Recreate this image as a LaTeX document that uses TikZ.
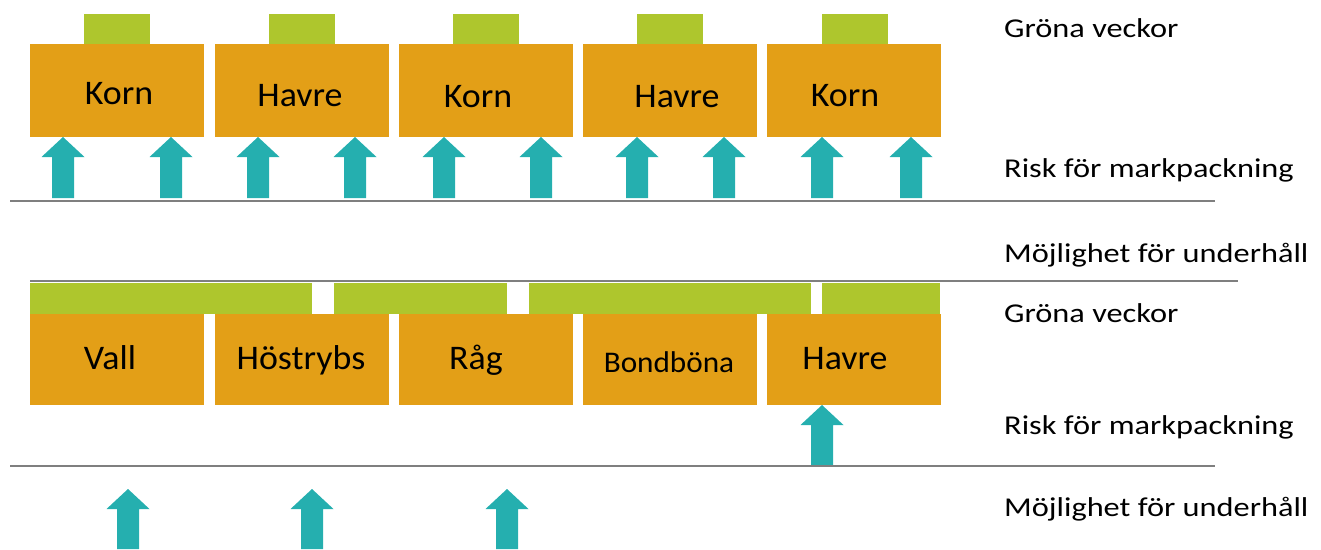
\documentclass[tikz,border=0pt]{standalone}
\usepackage{fontspec}
\setmainfont{Carlito}
\newfontfamily\boxfont{Carlito}[FakeStretch=1.04]
\newfontfamily\labfont{Carlito}[FakeStretch=1.19]
\definecolor{cropfill}{HTML}{E39F17}
\definecolor{coverfill}{HTML}{AEC62D}
\definecolor{arrowteal}{HTML}{25AFAF}
\definecolor{rulegrey}{HTML}{7F7F7F}
% block arrow pointing up: centre x, tip y, foot y
\newcommand\blockarrow[3]{%
  \fill[arrowteal] ({#1-11},{#3}) -- ({#1-11},{#2+20}) -- ({#1-21.5},{#2+20})
    -- ({#1},{#2}) -- ({#1+21.5},{#2+20}) -- ({#1+11},{#2+20}) -- ({#1+11},{#3}) -- cycle;}
\begin{document}
\begin{tikzpicture}[x=1pt,y=-1pt,
  cropbox/.style={fill=cropfill, draw=none, minimum width=174pt, minimum height=93pt,
    anchor=north west, inner sep=0pt},
  lowbox/.style={cropbox, minimum height=91pt},
  tab/.style={fill=coverfill, draw=none, minimum width=66pt, minimum height=30pt,
    anchor=north west, inner sep=0pt},
  bar/.style={fill=coverfill, draw=none, minimum height=31pt, anchor=north west, inner sep=0pt},
  croptext/.style={anchor=base, inner sep=0pt, font=\boxfont\fontsize{34.5}{40}\selectfont},
  sidetext/.style={anchor=base west, inner sep=0pt, font=\labfont\fontsize{27.2}{32}\selectfont},
  divider/.style={draw=rulegrey, line width=1.6pt}]
\useasboundingbox (0,0) rectangle (1321,549);

% ---- upper rotation: cereals every year
\node[cropbox] (u1) at (30,44) {};
\node[cropbox] (u2) at (215,44) {};
\node[cropbox] (u3) at (399,44) {};
\node[cropbox] (u4) at (583,44) {};
\node[cropbox] (u5) at (767,44) {};
\node[tab] (g1) at (84,14) {};
\node[tab] (g2) at (269,14) {};
\node[tab] (g3) at (453,14) {};
\node[tab] (g4) at (637,14) {};
\node[tab] (g5) at (822,14) {};
\node[croptext] (t1) at (119,104) {Korn};
\node[croptext] (t2) at (300,106) {Havre};
\node[croptext] (t3) at (478,107) {Korn};
\node[croptext] (t4) at (677,107) {Havre};
\node[croptext] (t5) at (845,106) {Korn};
\foreach \x in {63,171,258,355,444,541,637,724,822,911} {\blockarrow{\x}{137}{198}}

\coordinate (r1a) at (10,201);
\coordinate (r1b) at (1215,201);
\draw[divider] (r1a) -- (r1b);

% ---- lower rotation: ley and autumn crops
\coordinate (r2a) at (30,281);
\coordinate (r2b) at (1238,281);
\draw[divider] (r2a) -- (r2b);
\node[bar, minimum width=282pt] (b1) at (30,283) {};
\node[bar, minimum width=173pt] (b2) at (334,283) {};
\node[bar, minimum width=282pt] (b3) at (529,283) {};
\node[bar, minimum width=118pt] (b4) at (822,283) {};
\node[lowbox] (l1) at (30,314) {};
\node[lowbox] (l2) at (215,314) {};
\node[lowbox] (l3) at (399,314) {};
\node[lowbox] (l4) at (583,314) {};
\node[lowbox] (l5) at (767,314) {};
\node[croptext] (s1) at (110,369) {Vall};
\node[croptext] (s2) at (301,369) {Höstrybs};
\node[croptext] (s3) at (476,369) {Råg};
\node[croptext, font=\boxfont\fontsize{30}{36}\selectfont] (s4) at (669,372) {Bondböna};
\node[croptext] (s5) at (845,369) {Havre};
\blockarrow{822}{405}{466}

\coordinate (r3a) at (10,466);
\coordinate (r3b) at (1215,466);
\draw[divider] (r3a) -- (r3b);
\foreach \x in {128,312,507} {\blockarrow{\x}{489}{549}}

% ---- row captions
\node[sidetext] (c1) at (1004,37) {Gröna veckor};
\node[sidetext] (c2) at (1004,177) {Risk för markpackning};
\node[sidetext] (c3) at (1004,262) {Möjlighet för underhåll};
\node[sidetext] (c4) at (1004,322) {Gröna veckor};
\node[sidetext] (c5) at (1004,434) {Risk för markpackning};
\node[sidetext] (c6) at (1004,516) {Möjlighet för underhåll};
\end{tikzpicture}
\end{document}
